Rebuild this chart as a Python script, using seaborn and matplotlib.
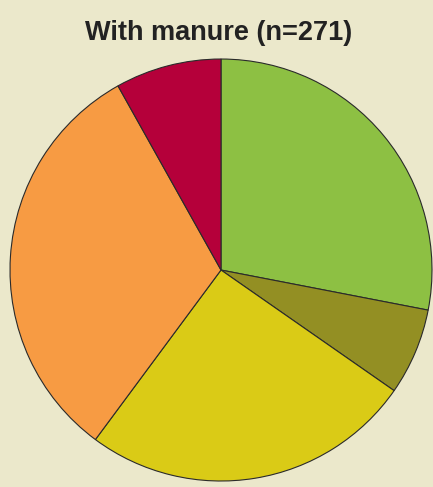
import matplotlib.pyplot as plt
import seaborn as sns

# slices clockwise from 12 o'clock
groups = ['Green', 'Olive', 'Yellow', 'Orange', 'Red']
counts = [76, 18, 69, 86, 22]
colors = ['#8dc043', '#938f23', '#dacb16', '#f79b43', '#b5003a']
title = 'With manure (n=271)'

sns.set_style('white')
plt.rcParams['font.family'] = ['Liberation Sans', 'DejaVu Sans']

fig = plt.figure(figsize=(4.33, 4.87), dpi=100)
fig.patch.set_facecolor('#ebe8cb')
ax = fig.add_axes([0.0231, 0.0123, 0.9746, 0.8665])
ax.set_facecolor('#ebe8cb')

ax.pie(counts, colors=colors, startangle=90, counterclock=False,
       wedgeprops=dict(edgecolor='#2a2a2a', linewidth=0.8))
ax.set_aspect('equal')
ax.set_xlim(-1, 1)
ax.set_ylim(-1, 1)
ax.axis('off')

fig.text(0.505, 0.933, title, ha='center', va='center',
         fontsize=19.5, fontweight='bold', color='#222222')

fig.savefig('out.png', dpi=100, facecolor=fig.get_facecolor())
